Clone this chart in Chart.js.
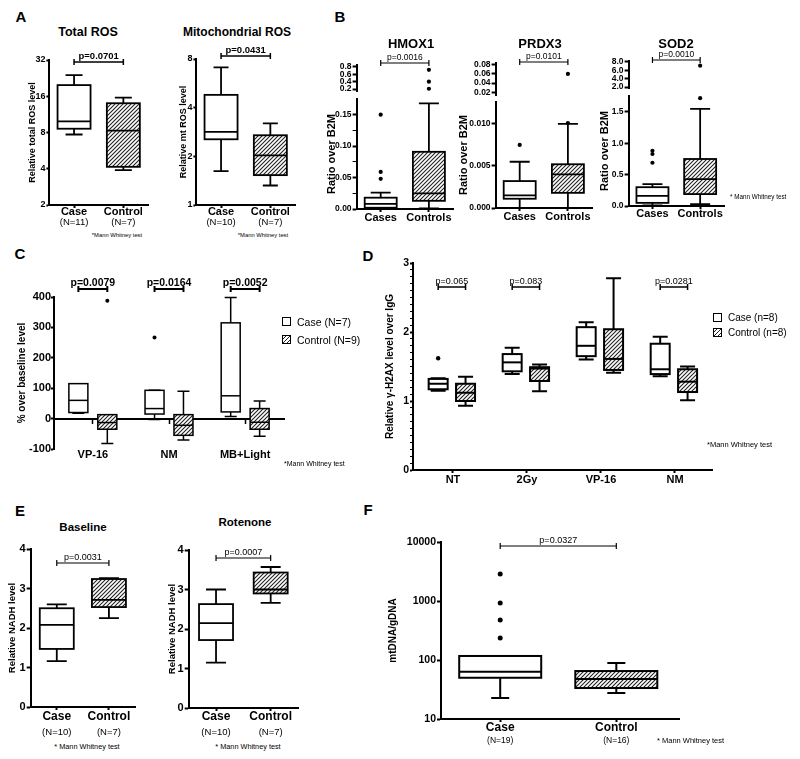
<!DOCTYPE html>
<html>
<head>
<meta charset="utf-8">
<script src="https://cdn.jsdelivr.net/npm/chart.js@4.4.1/dist/chart.umd.min.js"></script>
<style>
  html, body { margin: 0; padding: 0; background: #fff; }
  #fig { position: relative; width: 800px; height: 759px; overflow: hidden;
         font-family: 'Liberation Sans', Arial, sans-serif; color: #000; }
  #fig canvas { position: absolute; }
  .t { position: absolute; white-space: nowrap; line-height: 1; transform: translate(-50%, -50%); }
  .t.l { transform: translate(0, -50%); }
  .sq { position: absolute; width: 7px; height: 7px; border: 1.5px solid #000; background: #fff; }
  .sq.h { background: repeating-linear-gradient(135deg, #fff 0 1.6px, #222 1.6px 2.8px); }
</style>
</head>
<body>
<div id="fig"></div>
<script>
// ==== Data: box stats are [min, q1, median, q3, max] ====

// Panel A: ROS
const rosCats = ['Case', 'Control'];
const totalRosN = ['(N=11)', '(N=7)'];
const totalRosCase = [7.7, 8.6, 9.9, 19.8, 24];
const totalRosCtrl = [3.9, 4.15, 8.3, 14, 15.6];
const totalRosTicks = [2, 4, 8, 16, 32];
const mitoRosN = ['(N=10)', '(N=7)'];
const mitoRosCase = [1.62, 2.55, 2.83, 4.8, 7.1];
const mitoRosCtrl = [1.32, 1.53, 2.03, 2.7, 3.2];
const mitoRosTicks = [1, 2, 4, 8];

// Panel B: gene expression, broken y axes
const geneCats = ['Cases', 'Controls'];
const hmoxCases = [0, 0.002, 0.008, 0.018, 0.026];
const hmoxCasesOut = [0.15, 0.059, 0.048];
const hmoxCtrls = [0.001, 0.013, 0.025, 0.091, 0.168];
const hmoxCtrlsOut = [0.72, 0.4, 0.21];
const hmoxLowTicks = [0, 0.025, 0.05, 0.075, 0.1, 0.125, 0.15];
const hmoxLowLabels = ['0.00', '', '0.05', '', '0.10', '', '0.15'];
const hmoxHighTicks = [0.2, 0.4, 0.6, 0.8];
const hmoxHighLabels = ['0.2', '0.4', '0.6', '0.8'];

const prdxCases = [0, 0.0011, 0.0015, 0.0032, 0.0055];
const prdxCasesOut = [0.0075];
const prdxCtrls = [0, 0.0018, 0.004, 0.0052, 0.01];
const prdxCtrlsOut = [0.0101, 0.06];
const prdxLowTicks = [0, 0.005, 0.01];
const prdxLowLabels = ['0.000', '0.005', '0.010'];
const prdxHighTicks = [0.02, 0.04, 0.06, 0.08];
const prdxHighLabels = ['0.02', '0.04', '0.06', '0.08'];

const sodCases = [0.01, 0.05, 0.16, 0.3, 0.35];
const sodCasesOut = [0.88, 0.83, 0.69];
const sodCtrls = [0.03, 0.19, 0.43, 0.75, 1.55];
const sodCtrlsOut = [1.72, 7.1];
const sodLowTicks = [0, 0.5, 1, 1.5];
const sodLowLabels = ['0.0', '0.5', '1.0', '1.5'];
const sodHighTicks = [2, 4, 6, 8];
const sodHighLabels = ['2.0', '4.0', '6.0', '8.0'];

// Panel C: % over baseline
const cCats = ['VP-16', 'NM', 'MB+Light'];
const cCase = [[18, 20, 60, 115, 115], [-3, 15, 33, 93, 93], [7, 22, 75, 315, 398]];
const cCaseOut = [[], [267], []];
const cCtrl = [[-82, -35, -13, 13, 13], [-70, -55, -22, 13, 90], [-58, -35, -12, 33, 58]];
const cCtrlOut = [[388], [], []];
const cP = ['p=0.0079', 'p=0.0164', 'p=0.0052'];
const cTicks = [-100, 0, 100, 200, 300, 400];

// Panel D: gamma-H2AX
const dCats = ['NT', '2Gy', 'VP-16', 'NM'];
const dCase = [[1.15, 1.17, 1.25, 1.32, 1.33], [1.39, 1.43, 1.56, 1.68, 1.77],
               [1.6, 1.65, 1.8, 2.07, 2.14], [1.36, 1.39, 1.46, 1.83, 1.93]];
const dCaseOut = [[1.62], [], [], []];
const dCtrl = [[0.93, 1.0, 1.12, 1.25, 1.35], [1.14, 1.29, 1.47, 1.49, 1.53],
               [1.41, 1.45, 1.61, 2.04, 2.78], [1.01, 1.13, 1.28, 1.46, 1.5]];
const dP = ['p=0.065', 'p=0.083', '', 'p=0.0281'];
const dMajor = [0, 1, 2, 3];

// Panel E: NADH
const nadhN = ['(N=10)', '(N=7)'];
const baseCase = [1.16, 1.47, 2.08, 2.5, 2.6];
const baseCtrl = [2.25, 2.53, 2.71, 3.24, 3.26];
const rotCase = [1.15, 1.72, 2.15, 2.63, 3.0];
const rotCtrl = [2.66, 2.9, 3.0, 3.43, 3.57];
const nadhTicks = [0, 1, 2, 3, 4];

// Panel F: mtDNA copy
const mtN = ['(N=19)', '(N=16)'];
const mtCase = [22.7, 50, 63, 117, 117];
const mtCaseOut = [2870, 925, 477, 236];
const mtCtrl = [27.6, 33.5, 47.6, 65, 89];
const mtTicks = [10, 100, 1000, 10000];

// ==== Drawing helpers ====
const FONT = "'Liberation Sans', Arial, sans-serif";
Chart.defaults.font.family = FONT;
Chart.defaults.color = '#000';
const fig = document.getElementById('fig');

function text(s, x, y, css, left) {
  const d = document.createElement('div');
  d.className = left ? 't l' : 't';
  d.textContent = s;
  d.style.cssText = `left:${x}px;top:${y}px;` + css;
  fig.appendChild(d);
}

function square(x, y, hatched) {
  const d = document.createElement('div');
  d.className = hatched ? 'sq h' : 'sq';
  d.style.left = x + 'px';
  d.style.top = y + 'px';
  fig.appendChild(d);
}

let hatchTile = null;
function hatch(ctx) {
  if (!hatchTile) {
    hatchTile = document.createElement('canvas');
    hatchTile.width = hatchTile.height = 4;
    const g = hatchTile.getContext('2d');
    g.fillStyle = '#fff';
    g.fillRect(0, 0, 4, 4);
    g.strokeStyle = '#222';
    g.lineWidth = 1.1;
    g.beginPath();
    g.moveTo(0, 4); g.lineTo(4, 0);
    g.moveTo(-1, 1); g.lineTo(1, -1);
    g.moveTo(3, 5); g.lineTo(5, 3);
    g.stroke();
  }
  return ctx.createPattern(hatchTile, 'repeat');
}

function makeBoxPlugin(o) {
  return {
    id: 'boxes',
    beforeDatasetsDraw(chart) {
      const { ctx, chartArea: a, scales: { x, y } } = chart;
      ctx.save();
      ctx.beginPath();
      ctx.rect(a.left, a.top - 2, a.right - a.left, a.bottom - a.top + 2);
      ctx.clip();
      ctx.strokeStyle = '#000';
      ctx.lineWidth = o.lw;
      (o.items || []).forEach(b => {
        const cx = x.getPixelForValue(b.pos);
        const [mn, q1, md, q3, mx] = b.s.map(v => y.getPixelForValue(v));
        const hw = o.boxW / 2, cw = o.capW / 2;
        ctx.beginPath();
        ctx.moveTo(cx, q3); ctx.lineTo(cx, mx);
        ctx.moveTo(cx - cw, mx); ctx.lineTo(cx + cw, mx);
        ctx.moveTo(cx, q1); ctx.lineTo(cx, mn);
        ctx.moveTo(cx - cw, mn); ctx.lineTo(cx + cw, mn);
        ctx.stroke();
        ctx.fillStyle = b.hatch ? hatch(ctx) : '#fff';
        ctx.fillRect(cx - hw, q3, 2 * hw, q1 - q3);
        ctx.strokeRect(cx - hw, q3, 2 * hw, q1 - q3);
        ctx.beginPath();
        ctx.moveTo(cx - hw, md); ctx.lineTo(cx + hw, md);
        ctx.stroke();
      });
      ctx.restore();
    },
    afterDraw(chart) {
      const { ctx, chartArea: a, scales: { x } } = chart;
      ctx.save();
      ctx.fillStyle = ctx.strokeStyle = '#000';
      ctx.textAlign = 'center';
      if (o.brackets) {
        const yb = a.top + o.by;
        ctx.lineWidth = o.blw;
        ctx.font = o.bFont;
        ctx.textBaseline = 'alphabetic';
        o.brackets.forEach(([p1, p2, t]) => {
          if (!t) return;
          const x1 = x.getPixelForValue(p1), x2 = x.getPixelForValue(p2);
          ctx.beginPath();
          ctx.moveTo(x1, yb); ctx.lineTo(x2, yb);
          ctx.moveTo(x1, yb - 3); ctx.lineTo(x1, yb + 3);
          ctx.moveTo(x2, yb - 3); ctx.lineTo(x2, yb + 3);
          ctx.stroke();
          ctx.fillText(t, (x1 + x2) / 2, yb - 3);
        });
      }
      if (o.sub) {
        ctx.font = o.subFont;
        ctx.textBaseline = 'middle';
        o.sub.forEach((t, i) => ctx.fillText(t, x.getPixelForValue(o.pos[i]), a.bottom + o.subDy));
      }
      ctx.restore();
    }
  };
}

function boxChart(o) {
  const left = o.ax - o.yw;
  const pr = o.pr ?? 6;
  const w = Math.round(o.right - left + pr);
  const h = o.cBottom - o.cTop;
  const cv = document.createElement('canvas');
  cv.width = w; cv.height = h;
  Object.assign(cv.style, { left: left + 'px', top: o.cTop + 'px', width: w + 'px', height: h + 'px' });
  fig.appendChild(cv);

  const hideX = !o.cats;
  const noPad = s => { s.paddingLeft = s.paddingRight = s.paddingTop = s.paddingBottom = 0; };
  const ticksAt = vals => s => { s.ticks = vals.map(v => ({ value: v })); };

  const scales = {
    x: {
      type: 'linear', min: o.xMin, max: o.xMax, display: !hideX,
      afterBuildTicks: ticksAt(o.pos),
      afterFit: s => { s.height = o.cBottom - o.bottom; noPad(s); },
      border: { display: !o.zeroLine, color: '#000', width: 2 },
      grid: { drawOnChartArea: false, drawTicks: !o.zeroLine, tickLength: 3, tickWidth: 2, color: '#000' },
      ticks: {
        autoSkip: false, maxRotation: 0, color: '#000', padding: o.catPad,
        font: { size: o.catSize, weight: 'bold', lineHeight: o.catLh || 1.2 },
        callback: (v, i) => (o.cats || [])[i]
      }
    },
    y: {
      type: o.log ? 'logarithmic' : 'linear', min: o.yMin, max: o.yMax,
      afterBuildTicks: ticksAt(o.yTicks),
      afterFit: s => { s.width = o.yw; noPad(s); },
      border: { color: '#000', width: 2 },
      grid: {
        drawOnChartArea: false, tickLength: o.yTickLen || 4, color: '#000',
        tickWidth: c => (o.yLabels[c.index] === '' ? 1 : 2)
      },
      ticks: {
        autoSkip: false, color: '#000', padding: o.yPad ?? 1, font: { size: o.ySize, weight: 'bold' },
        callback: (v, i) => o.yLabels[i]
      },
      title: {
        display: !!o.yTitle, text: o.yTitle || '', color: '#000', padding: 0,
        font: { size: o.yTitleSize || 10, weight: 'bold' }
      }
    }
  };
  if (o.zeroLine) {
    scales.x0 = {
      type: 'linear', axis: 'x', min: o.xMin, max: o.xMax, position: { y: 0 },
      afterBuildTicks: ticksAt(o.pos),
      border: { color: '#000', width: 2 },
      grid: { drawOnChartArea: false, tickLength: 4, tickWidth: 1.5, color: '#000' },
      ticks: { display: false }
    };
  }

  new Chart(cv, {
    type: 'scatter',
    data: {
      datasets: [{
        data: (o.out || []).map(([px, v]) => ({ x: px, y: v })),
        pointRadius: o.dot || 2.2, pointBackgroundColor: '#000', pointBorderWidth: 0
      }]
    },
    options: {
      responsive: false, animation: false,
      layout: { padding: { left: 0, right: pr, top: o.top - o.cTop, bottom: hideX ? o.cBottom - o.bottom : 0 } },
      plugins: { legend: { display: false }, tooltip: { enabled: false } },
      scales
    },
    plugins: [makeBoxPlugin(o)]
  });
}

// two-group box plots
function pairItems(a, b) {
  return [{ pos: 1, s: a, hatch: false }, { pos: 2, s: b, hatch: true }];
}

// ==== Panel A ====
boxChart({
  ax: 49, top: 60, bottom: 205, right: 148, cTop: 44, cBottom: 232, yw: 22.4,
  log: true, yMin: 2, yMax: 32, yTicks: totalRosTicks, yLabels: totalRosTicks.map(String), ySize: 9, yTickLen: 3,
  yTitle: 'Relative total ROS level', yTitleSize: 9,
  xMin: 0.5, xMax: 2.5, pos: [1, 2], cats: rosCats, catSize: 11, catPad: -2.5,
  items: pairItems(totalRosCase, totalRosCtrl), boxW: 33, capW: 17, lw: 1.8,
  brackets: [[1, 2, 'p=0.0701']], by: 2, bFont: `bold 9.5px ${FONT}`, blw: 1.5,
  sub: totalRosN, subDy: 17, subFont: `9.5px ${FONT}`
});
boxChart({
  ax: 196, top: 59, bottom: 205, right: 295, cTop: 40, cBottom: 232, yw: 18.4,
  log: true, yMin: 1, yMax: 8, yTicks: mitoRosTicks, yLabels: mitoRosTicks.map(String), ySize: 9, yTickLen: 3,
  yTitle: 'Relative mt ROS level', yTitleSize: 9,
  xMin: 0.5, xMax: 2.5, pos: [1, 2], cats: rosCats, catSize: 11, catPad: -2.5,
  items: pairItems(mitoRosCase, mitoRosCtrl), boxW: 33, capW: 15, lw: 1.8,
  brackets: [[1, 2, 'p=0.0431']], by: -3, bFont: `bold 9.5px ${FONT}`, blw: 1.5,
  sub: mitoRosN, subDy: 17, subFont: `9.5px ${FONT}`
});

// ==== Panel B: each gene is a lower chart plus a compressed upper chart ====
function geneChart(g) {
  const common = { ax: g.ax, right: g.right, yw: g.yw, xMin: 0.5, xMax: 2.5, pos: [1, 2], ySize: 8.5, dot: 2.1 };
  const outs = (vals, p, keep) => vals.filter(keep).map(v => [p, v]);
  const low = v => v <= g.lowMax;
  const high = v => v > g.lowMax;
  boxChart(Object.assign({}, common, {
    top: g.highTop, bottom: g.highBottom, cTop: g.highTop - 18, cBottom: g.highBottom + 2,
    yMin: g.highMin, yMax: g.highMax, yTicks: g.highTicks, yLabels: g.highLabels,
    out: outs(g.cases.out, 1, high).concat(outs(g.ctrls.out, 2, high)),
    brackets: [[1, 2, g.p]], by: g.by, bFont: `8.5px ${FONT}`, blw: 1.2
  }));
  boxChart(Object.assign({}, common, {
    top: g.lowTop, bottom: g.lowBottom, cTop: g.lowTop - 4, cBottom: g.lowBottom + 20,
    yMin: 0, yMax: g.lowMax, yTicks: g.lowTicks, yLabels: g.lowLabels,
    yTitle: 'Ratio over B2M', yTitleSize: 11,
    cats: geneCats, catSize: 11, catPad: g.catPad,
    items: pairItems(g.cases.s, g.ctrls.s), boxW: 32, capW: 20, lw: 1.8,
    out: outs(g.cases.out, 1, low).concat(outs(g.ctrls.out, 2, low))
  }));
}
geneChart({
  ax: 357, right: 453, yw: 31.6, p: 'p=0.0016', by: -2, catPad: -0.5,
  highTop: 65, highBottom: 93, highMin: 0.15, highMax: 0.85, highTicks: hmoxHighTicks, highLabels: hmoxHighLabels,
  lowTop: 99, lowBottom: 209, lowMax: 0.175, lowTicks: hmoxLowTicks, lowLabels: hmoxLowLabels,
  cases: { s: hmoxCases, out: hmoxCasesOut }, ctrls: { s: hmoxCtrls, out: hmoxCtrlsOut }
});
geneChart({
  ax: 496, right: 592, yw: 38.6, p: 'p=0.0101', by: -1, catPad: -0.5,
  highTop: 63, highBottom: 97, highMin: 0.0138, highMax: 0.0841, highTicks: prdxHighTicks, highLabels: prdxHighLabels,
  lowTop: 102, lowBottom: 208, lowMax: 0.0126, lowTicks: prdxLowTicks, lowLabels: prdxLowLabels,
  cases: { s: prdxCases, out: prdxCasesOut }, ctrls: { s: prdxCtrls, out: prdxCtrlsOut }
});
geneChart({
  ax: 629, right: 724, yw: 30.6, p: 'p=0.0010', by: -1, catPad: -1.5,
  highTop: 61, highBottom: 90, highMin: 1.78, highMax: 8.22, highTicks: sodHighTicks, highLabels: sodHighLabels,
  lowTop: 96, lowBottom: 206, lowMax: 1.755, lowTicks: sodLowTicks, lowLabels: sodLowLabels,
  cases: { s: sodCases, out: sodCasesOut }, ctrls: { s: sodCtrls, out: sodCtrlsOut }
});

// ==== Panel C ====
const cOff = 0.19;
boxChart({
  ax: 54, top: 297, bottom: 449, right: 284, cTop: 268, cBottom: 466, yw: 38, pr: 4,
  yMin: -100, yMax: 400, yTicks: cTicks, yLabels: cTicks.map(String), ySize: 11, yTickLen: 3, yPad: 0,
  yTitle: '% over baseline level', yTitleSize: 10,
  xMin: 0.49, xMax: 3.51, pos: [1, 2, 3], cats: cCats, catSize: 11, catPad: 1.5, catLh: 0.8, zeroLine: true,
  items: cCase.map((s, i) => ({ pos: i + 1 - cOff, s, hatch: false }))
    .concat(cCtrl.map((s, i) => ({ pos: i + 1 + cOff, s, hatch: true }))),
  out: cCaseOut.flatMap((vs, i) => vs.map(v => [i + 1 - cOff, v]))
    .concat(cCtrlOut.flatMap((vs, i) => vs.map(v => [i + 1 + cOff, v]))),
  boxW: 19, capW: 12, lw: 1.5, dot: 2,
  brackets: cP.map((t, i) => [i + 1 - cOff, i + 1 + cOff, t]), by: -8, bFont: `bold 10.5px ${FONT}`, blw: 2
});

// ==== Panel D ====
const dLeft = -0.2, dRight = 0.17;
const dTicks = [], dLabels = [];
for (let k = 0; k <= 30; k++) {
  const v = k / 10;
  dTicks.push(v);
  dLabels.push(dMajor.includes(v) ? String(v) : '');
}
boxChart({
  ax: 413, top: 263, bottom: 470, right: 712, cTop: 255, cBottom: 492, yw: 29, pr: 4,
  yMin: 0, yMax: 3, yTicks: dTicks, yLabels: dLabels, ySize: 10.5, yTickLen: 3,
  yTitle: 'Relative γ-H2AX level over IgG', yTitleSize: 10,
  xMin: 0.46, xMax: 4.5, pos: [1, 2, 3, 4], cats: dCats, catSize: 11, catPad: 0.4,
  items: dCase.map((s, i) => ({ pos: i + 1 + dLeft, s, hatch: false }))
    .concat(dCtrl.map((s, i) => ({ pos: i + 1 + dRight, s, hatch: true }))),
  out: dCaseOut.flatMap((vs, i) => vs.map(v => [i + 1 + dLeft, v])),
  boxW: 19, capW: 15, lw: 2, dot: 2.2,
  brackets: dP.map((t, i) => [i + 1 + dLeft, i + 1 + dRight, t]), by: 24, bFont: `9px ${FONT}`, blw: 1.5
});

// ==== Panel E ====
boxChart({
  ax: 31, top: 549, bottom: 707, right: 135, cTop: 538, cBottom: 742, yw: 23.7,
  yMin: 0, yMax: 4, yTicks: nadhTicks, yLabels: nadhTicks.map(String), ySize: 11,
  yTitle: 'Relative NADH level', yTitleSize: 9.5,
  xMin: 0.5, xMax: 2.5, pos: [1, 2], cats: rosCats, catSize: 12, catPad: -0.2,
  items: pairItems(baseCase, baseCtrl), boxW: 34, capW: 20, lw: 1.8,
  brackets: [[1, 2, 'p=0.0031']], by: 14, bFont: `9px ${FONT}`, blw: 1.2,
  sub: nadhN, subDy: 25, subFont: `9.5px ${FONT}`
});
boxChart({
  ax: 189, top: 550, bottom: 708, right: 298, cTop: 538, cBottom: 742, yw: 21.7,
  yMin: 0, yMax: 4, yTicks: nadhTicks, yLabels: nadhTicks.map(String), ySize: 11,
  yTitle: 'Relative NADH level', yTitleSize: 9.5,
  xMin: 0.5, xMax: 2.5, pos: [1, 2], cats: rosCats, catSize: 12, catPad: -1.2,
  items: pairItems(rotCase, rotCtrl), boxW: 34, capW: 20, lw: 1.8,
  brackets: [[1, 2, 'p=0.0007']], by: 8, bFont: `9px ${FONT}`, blw: 1.2,
  sub: nadhN, subDy: 24, subFont: `9.5px ${FONT}`
});

// ==== Panel F ====
boxChart({
  ax: 441, top: 542, bottom: 719, right: 679, cTop: 528, cBottom: 752, yw: 54,
  log: true, yMin: 10, yMax: 10000, yTicks: mtTicks, yLabels: mtTicks.map(String), ySize: 10.5,
  yTitle: 'mtDNA/gDNA', yTitleSize: 10,
  xMin: 0.49, xMax: 2.54, pos: [1, 2], cats: rosCats, catSize: 12, catPad: -1.2,
  items: pairItems(mtCase, mtCtrl), out: mtCaseOut.map(v => [1, v]),
  boxW: 82, capW: 18, lw: 2, dot: 2.5,
  brackets: [[1, 2, 'p=0.0327']], by: 4, bFont: `9px ${FONT}`, blw: 1.2,
  sub: mtN, subDy: 22, subFont: `8.5px ${FONT}`
});

// ==== Panel letters, titles, legends and footnotes ====
const letter = 'font-weight:bold;font-size:15px;';
text('A', 21, 16, letter);
text('B', 340, 16, letter);
text('C', 20, 253, letter);
text('D', 368, 255, letter);
text('E', 20, 510, letter);
text('F', 368, 509, letter);

text('Total ROS', 88, 32, 'font-weight:bold;font-size:12.5px;');
text('Mitochondrial ROS', 237, 32, 'font-weight:bold;font-size:12px;');
text('HMOX1', 411, 43, 'font-weight:bold;font-size:13px;');
text('PRDX3', 540, 43, 'font-weight:bold;font-size:13px;');
text('SOD2', 676, 43, 'font-weight:bold;font-size:13px;');
text('Baseline', 83, 528, 'font-weight:bold;font-size:11.5px;');
text('Rotenone', 245, 523, 'font-weight:bold;font-size:11.5px;');

text('*Mann Whitney test', 117, 236, 'font-size:5.8px;');
text('*Mann Whitney test', 263, 236, 'font-size:5.8px;');
text('* Mann Whitney test', 730, 197, 'font-size:6.3px;', true);
text('*Mann Whitney test', 284, 463, 'font-size:7px;', true);
text('*Mann Whitney test', 707, 445, 'font-size:7.5px;', true);
text('* Mann Whitney test', 87, 747, 'font-size:7.3px;');
text('* Mann Whitney test', 248, 747, 'font-size:7.3px;');
text('* Mann Whitney test', 657, 741, 'font-size:7.5px;', true);

square(282, 317, false);
text('Case (N=7)', 297, 321.5, 'font-size:10.5px;', true);
square(282, 335, true);
text('Control (N=9)', 297, 340, 'font-size:10.5px;', true);

square(713, 313, false);
text('Case (n=8)', 728, 318, 'font-size:10px;', true);
square(713, 328, true);
text('Control (n=8)', 728, 333, 'font-size:10px;', true);
</script>
</body>
</html>
